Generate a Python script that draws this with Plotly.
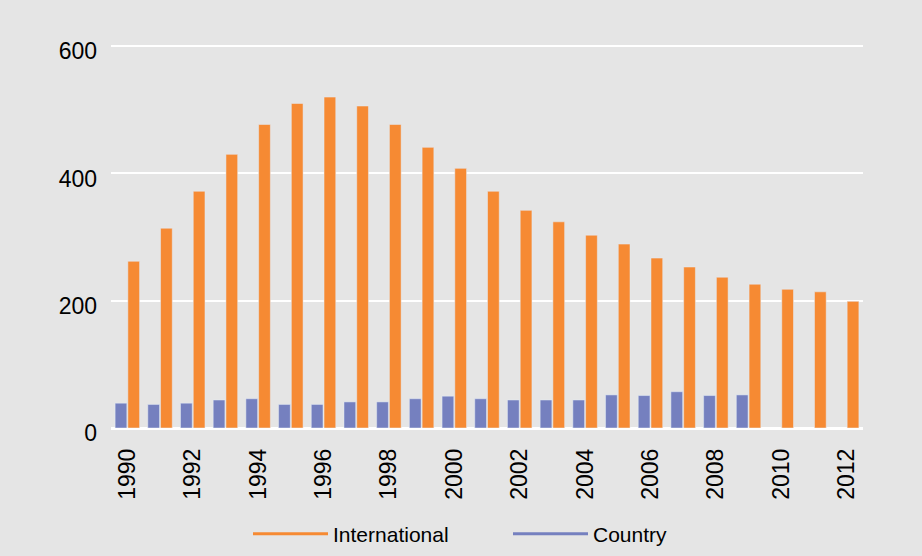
import plotly.graph_objects as go

years = list(range(1990, 2013))
international = [262, 314, 372, 430, 477, 510, 520, 506, 477, 441, 408, 372,
                 342, 324, 303, 289, 267, 253, 237, 226, 218, 214, 199]
country = [39, 37, 39, 44, 46, 37, 37, 41, 41, 46, 50, 46,
           44, 44, 44, 52, 51, 57, 51, 52, None, None, None]
tick_years = list(range(1990, 2013, 2))

ORANGE = "#F68A33"
BLUE = "#7580BF"
BG = "#E5E5E5"
FONT = "Liberation Sans, Arial, sans-serif"

fig = go.Figure()
fig.add_trace(go.Bar(x=years, y=country, name="Country", marker_color=BLUE,
                     showlegend=False))
fig.add_trace(go.Bar(x=years, y=international, name="International",
                     marker_color=ORANGE, showlegend=False))
# legend entries drawn as lines
fig.add_trace(go.Scatter(x=[None], y=[None], mode="lines", name="International",
                         line=dict(color=ORANGE, width=3)))
fig.add_trace(go.Scatter(x=[None], y=[None], mode="lines", name="Country",
                         line=dict(color=BLUE, width=3)))

fig.update_layout(
    width=922, height=556,
    margin=dict(l=111, r=59, t=43, b=128),
    paper_bgcolor=BG, plot_bgcolor=BG,
    font=dict(family=FONT, size=23, color="#000000"),
    barmode="group", bargap=0.22, bargroupgap=0.08,
    showlegend=True,
    legend=dict(orientation="h", xref="container", yref="container",
                x=0.5 + 47 / 922, xanchor="center", y=1 - 534 / 556,
                yanchor="middle",
                font=dict(size=21), itemwidth=75, entrywidth=170,
                bgcolor="rgba(0,0,0,0)"),
    xaxis=dict(tickmode="array", tickvals=tick_years,
               ticktext=[str(y) for y in tick_years], tickangle=-90,
               showgrid=False, zeroline=False, ticks="",
               range=[1989.5, 2012.5], ticklabelstandoff=15),
    yaxis=dict(range=[0, 605], tickvals=[0, 200, 400, 600],
               showgrid=True, gridcolor="#FFFFFF", gridwidth=2,
               zeroline=True, zerolinecolor="#FFFFFF", zerolinewidth=3,
               ticks="", ticklabelstandoff=13, ticklabelshift=5),
)

fig.write_html("out.html")
